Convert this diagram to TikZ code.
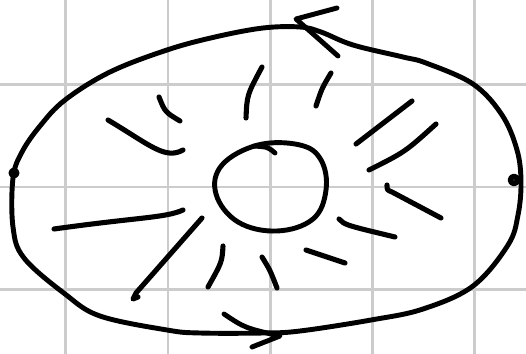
\documentclass[tikz,border=0pt]{standalone}
\usetikzlibrary{positioning}

\begin{document}
\begin{tikzpicture}[
        x={(0.02cm,0)}, y={(0,-0.02cm)},
        grid line/.style={draw=gray!40, line width=1.7pt},
        stroke/.style={draw=black, line width=2.8pt, line cap=round, line join=round},
        ray/.style={stroke, line width=2.9pt},
    ]

    \useasboundingbox (0,0) rectangle (526,354);

    % Background grid
    \draw[grid line] (65.5,0) -- (65.5,354);
    \draw[grid line] (168,0) -- (168,354);
    \draw[grid line] (270.5,0) -- (270.5,354);
    \draw[grid line] (372,0) -- (372,354);
    \draw[grid line] (474,0) -- (474,354);
    \draw[grid line] (0,84.5) -- (526,84.5);
    \draw[grid line] (0,187) -- (526,187);
    \draw[grid line] (0,289.5) -- (526,289.5);

    % Outer loop
    \draw[stroke] plot[smooth cycle, tension=0.6] coordinates {
        (13,178) (22,152) (40,126) (65,100) (110,72) (167,50) (215,37)
        (263,28) (300,27) (321,32) (353,45) (403,57) (426,63) (473,84)
        (502,115) (517,150) (521,182) (518,215) (508,245) (473,286)
        (423,309) (371,320) (300,331) (263,333) (200,333) (167,330)
        (100,316) (65,294) (24,258) (13,227)};

    % Small loops where the stroke turns
    \draw[stroke] (14,173) circle (3);
    \draw[stroke, line width=3.2pt] (514,180) circle (3.5);

    % Arrowhead on top
    \draw[stroke] (337,8) -- (296,19) .. controls (312,33) .. (338,56);

    % Arrowhead at the bottom
    \draw[stroke] (224,314) .. controls (245,328) .. (280,336) -- (252,347);

    % Inner circle
    \draw[stroke] plot[smooth cycle, tension=0.65] coordinates {
        (258,145) (300,145) (321,160) (326,190) (313,219) (277,231)
        (238,222) (216,194) (222,165)};
    \draw[stroke] (275,153) .. controls (268,147) .. (254,146);

    % Rays around the inner circle
    \draw[ray] (108,120) .. controls (150,145) and (165,160) .. (183,150);
    \draw[ray] (159,97) .. controls (165,112) .. (180,121);
    \draw[ray] (246,118) .. controls (247,95) .. (262,67);
    \draw[ray] (316,106) .. controls (322,88) .. (331,73);
    \draw[ray] (356,144) -- (412,101);
    \draw[ray] (369,170) .. controls (405,152) .. (436,124);
    \draw[ray] (54,229) .. controls (140,217) and (165,218) .. (183,210);
    \draw[ray] (202,218) -- (136,293) -- (133,299) -- (138,297);
    \draw[ray] (223,246) .. controls (222,262) .. (208,287);
    \draw[ray] (262,257) .. controls (270,270) .. (277,288);
    \draw[ray] (306,250) -- (345,263);
    \draw[ray] (339,219) .. controls (345,225) .. (395,237);
    \draw[ray] (387,185) .. controls (387,190) .. (392,192) -- (441,218);

\end{tikzpicture}
\end{document}
